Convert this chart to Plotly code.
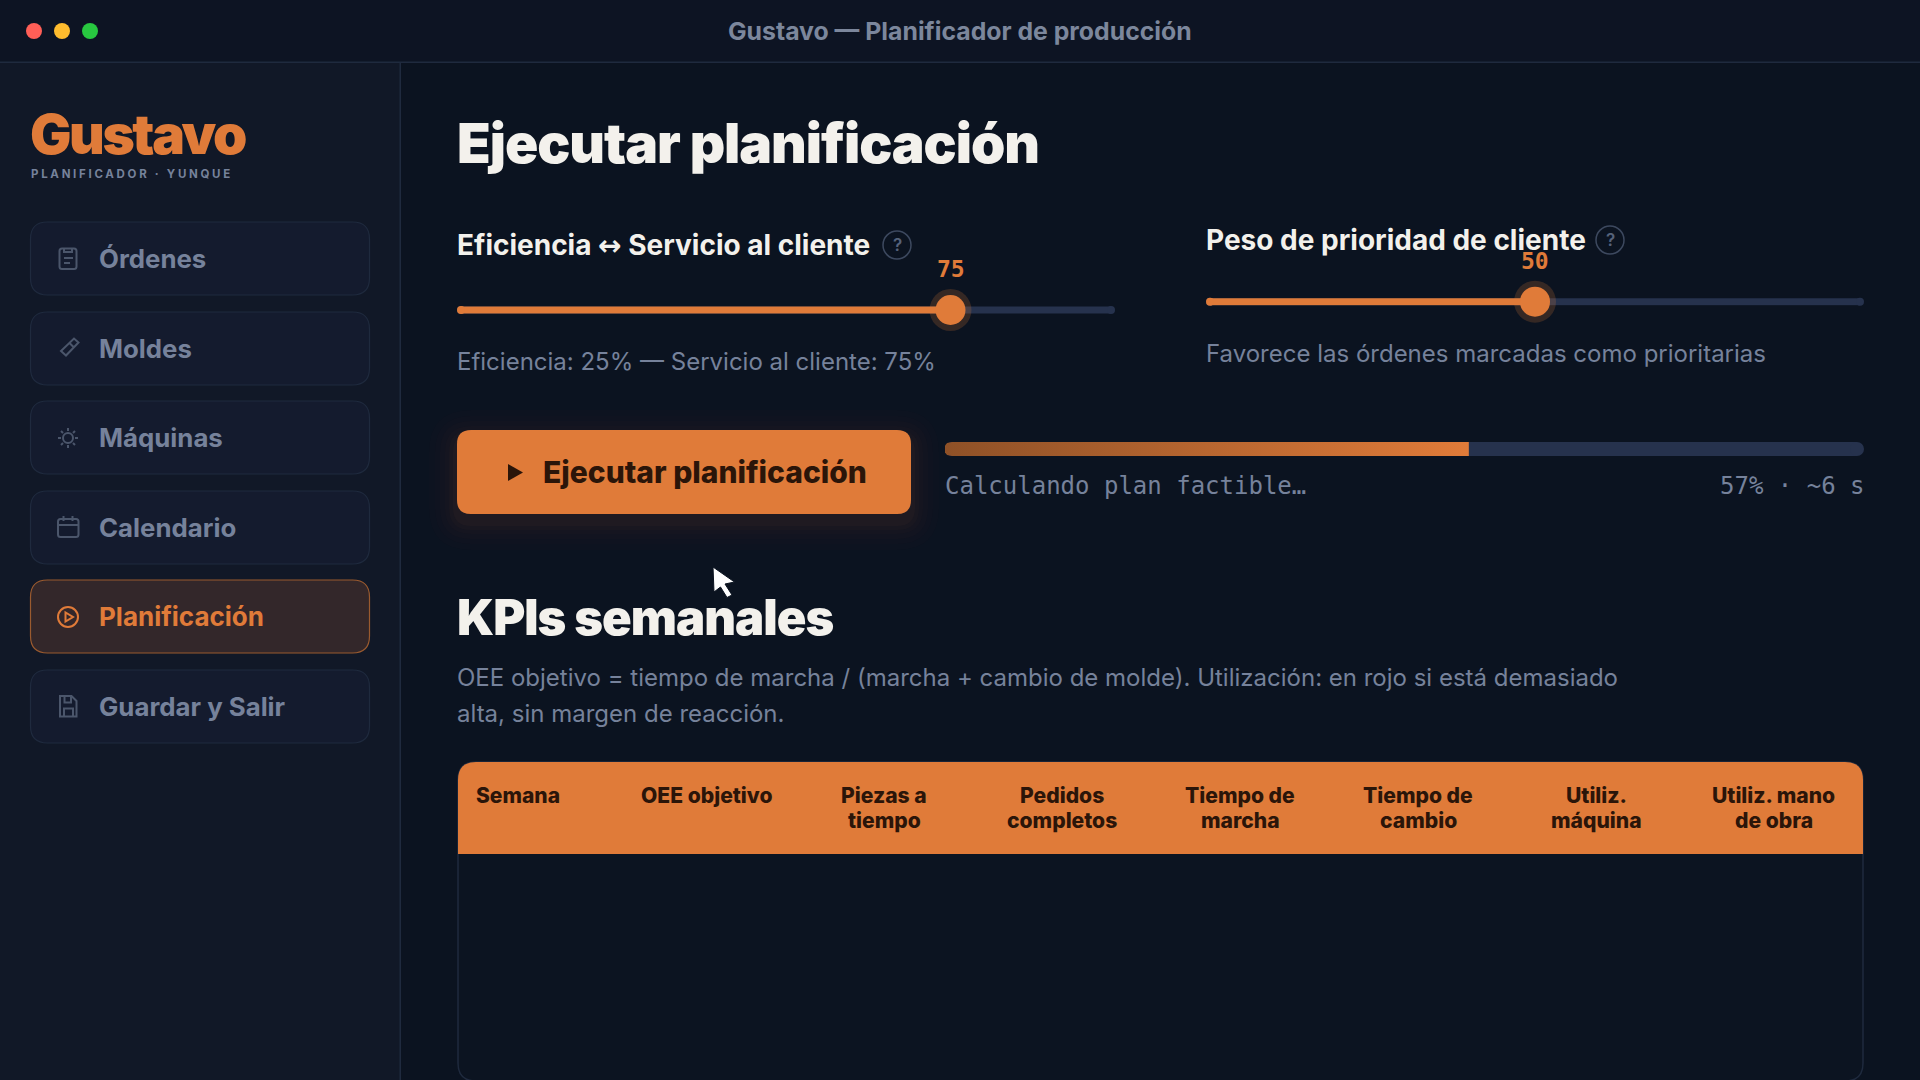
import plotly.graph_objects as go

W, H = 1920, 1080

# values shown in the screen
window_title = "Gustavo — Planificador de producción"
nav_items = ["Órdenes", "Moldes", "Máquinas", "Calendario", "Planificación", "Guardar y Salir"]
active_item = "Planificación"
page_title = "Ejecutar planificación"
slider_labels = ["Eficiencia <span style=\"font-family:'DejaVu Sans'\">↔</span> Servicio al cliente", "Peso de prioridad de cliente"]
slider_values = [75, 50]
slider_notes = ["Eficiencia: 25% — Servicio al cliente: 75%", "Favorece las órdenes marcadas como prioritarias"]
progress_value = 57
progress_text = "Calculando plan factible…"
progress_status = "57% · ~6 s"
kpi_title = "KPIs semanales"
kpi_notes = [
    "OEE objetivo = tiempo de marcha / (marcha + cambio de molde). Utilización: en rojo si está demasiado",
    "alta, sin margen de reacción.",
]
table_headers = [
    ["Semana"],
    ["OEE objetivo"],
    ["Piezas a", "tiempo"],
    ["Pedidos", "completos"],
    ["Tiempo de", "marcha"],
    ["Tiempo de", "cambio"],
    ["Utiliz.", "máquina"],
    ["Utiliz. mano", "de obra"],
]

ORANGE = "#e07b39"
DARK_TEXT = "#2b1509"
LIGHT = "#f3f1ec"
MUTED = "#76829b"
TRACK = "#26324d"
BORDER = "#1f2a3e"
ICON = "#4b566b"
SANS = "Inter"
MONO = "DejaVu Sans Mono"

fig = go.Figure()
shapes = []
annotations = []


def rounded(x0, y0, x1, y1, r, bottom=True):
    p = f"M{x0 + r},{y0} L{x1 - r},{y0} Q{x1},{y0} {x1},{y0 + r} "
    if bottom:
        p += f"L{x1},{y1 - r} Q{x1},{y1} {x1 - r},{y1} L{x0 + r},{y1} Q{x0},{y1} {x0},{y1 - r} "
    else:
        p += f"L{x1},{y1} L{x0},{y1} "
    p += f"L{x0},{y0 + r} Q{x0},{y0} {x0 + r},{y0} Z"
    return p


def box(path, fill="rgba(0,0,0,0)", line=None, width=1.5, layer="below"):
    shapes.append(dict(
        type="path", path=path, xref="x", yref="y", fillcolor=fill, layer=layer,
        line=dict(color=line or "rgba(0,0,0,0)", width=width if line else 0),
    ))


def rect(x0, y0, x1, y1, fill):
    shapes.append(dict(type="rect", x0=x0, x1=x1, y0=y0, y1=y1, xref="x", yref="y",
                       fillcolor=fill, line_width=0, layer="below"))


def circle(cx, cy, r, line, fill="rgba(0,0,0,0)", width=1.5):
    shapes.append(dict(type="circle", x0=cx - r, x1=cx + r, y0=cy - r, y1=cy + r, xref="x", yref="y",
                       fillcolor=fill, line=dict(color=line, width=width), layer="below"))


def text(s, x, y, size, color, weight=400, family=SANS, anchor="left", xref="x", yref="y"):
    annotations.append(dict(
        text=s, x=x, y=y, xref=xref, yref=yref, xanchor=anchor, yanchor="middle", align=anchor,
        showarrow=False, borderpad=0, font=dict(family=family, size=size, color=color, weight=weight),
    ))


def add_meter(n, x0, x1, y0, y1):
    # every slider and the progress bar gets its own 0-100 axis
    fig.update_layout({
        f"xaxis{n}": dict(domain=[x0 / W, x1 / W], range=[0, 100], visible=False, anchor=f"y{n}", fixedrange=True),
        f"yaxis{n}": dict(domain=[1 - y1 / H, 1 - y0 / H], range=[0, 1], visible=False, anchor=f"x{n}", fixedrange=True),
    })
    return f"x{n}", f"y{n}"


def add_bar_line(xa, ya, start, end, color, thick):
    fig.add_trace(go.Scatter(
        x=[start, end], y=[0.5, 0.5], xaxis=xa, yaxis=ya, mode="lines+markers", cliponaxis=False,
        line=dict(color=color, width=thick), marker=dict(color=color, size=thick), hoverinfo="skip",
    ))


# window and sidebar
rect(0, 0, W, H, "#0b1320")
rect(0, 0, W, 62, "#0d1423")
rect(0, 62, 400, H, "#111827")
rect(0, 61.5, W, 63, BORDER)
rect(399.5, 62, 401, H, BORDER)
fig.add_trace(go.Scatter(
    x=[34, 62, 90], y=[31, 31, 31], mode="markers", hoverinfo="skip",
    marker=dict(size=16, color=["#ff5f57", "#febc2e", "#28c840"]),
))
text(window_title, 960, 31, 24.8, "#7c879c", 700, anchor="center")
text("Gustavo", 29, 134, 55, ORANGE, 900)
text("PLANIFICADOR · YUNQUE", 29.5, 174, 11.5, MUTED, 700)

nav_tops = [222, 312, 401, 491, 580, 670]
for label, top in zip(nav_items, nav_tops):
    on = label == active_item
    box(rounded(30.5, top, 369.5, top + 73, 17), "#33272a" if on else "#141b2e",
        "#9a5a2f" if on else BORDER, 1.2)
    text(label, 98, top + 36.5, 26 if on else 25.8, ORANGE if on else MUTED, 700)

# sidebar icons, drawn by hand
box(rounded(59.5, 248.5, 76.5, 269, 2.5), line=ICON, width=2)
box("M64,249 L64,252 L72,252 L72,249 M64,258 L73,258 M64,263 L70,263", line=ICON, width=2)
box("M61,351 L74,338.5 L78.5,342.5 L66,355.5 Z M69.5,343 L74,347.5", line=ICON, width=2)
circle(68, 438, 5, ICON, width=2)
box("M68,428 L68,431 M68,445 L68,448 M58,438 L61,438 M75,438 L78,438 "
    "M61,431 L63,433 M73,443 L75,445 M61,445 L63,443 M73,433 L75,431", line=ICON, width=2)
box(rounded(58, 519, 78.5, 537, 2.5), line=ICON, width=2)
box("M58,525 L78.5,525 M63.5,516 L63.5,521 M72.5,516 L72.5,521", line=ICON, width=2)
circle(68, 617, 10, ORANGE, width=2)
box("M65.5,612.5 L65.5,621.5 L73,617 Z", line=ORANGE, width=2)
box("M60,696 L71.5,696 L76.5,701 L76.5,716.5 L60,716.5 Z "
    "M64.5,696 L64.5,702.5 L71,702.5 L71,696 M64,716.5 L64,708.5 L73,708.5 L73,716.5", line=ICON, width=2)

# page heading
text(page_title, 456, 143, 55, LIGHT, 900)

# sliders
slider_boxes = [(457, 1115, 310, 245, 897, 268.5, 361), (1206, 1864, 301.7, 240, 1610, 261, 353)]
for i, (x0, x1, ty, ly, hx, vy, ny) in enumerate(slider_boxes):
    value = slider_values[i]
    xa, ya = add_meter(i + 2, x0, x1, ty - 3.5, ty + 3.5)
    cap = 4 / (x1 - x0) * 100
    add_bar_line(xa, ya, cap, 100 - cap, TRACK, 8)
    fig.add_trace(go.Scatter(
        x=[value], y=[0.5], xaxis=xa, yaxis=ya, mode="markers", cliponaxis=False, hoverinfo="skip",
        marker=dict(size=42, color="rgba(224,123,57,0.2)"),
    ))
    add_bar_line(xa, ya, cap, value, ORANGE, 8)
    fig.add_trace(go.Scatter(
        x=[value], y=[0.5], xaxis=xa, yaxis=ya, mode="markers", cliponaxis=False, hoverinfo="skip",
        marker=dict(size=30, color=ORANGE),
    ))
    text(slider_labels[i], x0 - 1, ly, 28, LIGHT, 700)
    circle(hx, ly, 14, "#3d495f")
    text("?", hx, ly, 17, "#56627a", 600, anchor="center")
    text(str(value), value, 0, 23, ORANGE, 700, MONO, "center", xref=xa, yref="y")
    annotations[-1]["y"] = vy
    text(slider_notes[i], x0 - 1, ny, 24, MUTED)

# run button with soft glow
for grow, alpha in [(28, 0.01), (22, 0.013), (17, 0.016), (12, 0.02), (8, 0.025), (4, 0.03)]:
    box(rounded(457 - grow, 430 + 8 - grow, 911 + grow, 514 + 8 + grow, 14 + grow), f"rgba(224,123,57,{alpha})")
box(rounded(457, 430, 911, 514, 14), ORANGE)
box("M508,464 L523,472.5 L508,481 Z", DARK_TEXT)
text(page_title, 542, 472, 30, DARK_TEXT, 800)

# progress bar
xa, ya = add_meter(4, 945, 1864, 442, 456)
cap = 7 / 919 * 100
add_bar_line(xa, ya, cap, 100 - cap, TRACK, 14)
fig.add_trace(go.Scatter(
    x=[cap * 0.3, cap, progress_value, progress_value, cap, cap * 0.3, 0, 0, cap * 0.3],
    y=[0.93, 1, 1, 0, 0, 0.07, 0.25, 0.75, 0.93],
    xaxis=xa, yaxis=ya, mode="none", fill="toself", hoverinfo="skip",
    fillgradient=dict(type="horizontal", colorscale=[[0, "#8f5127"], [1, ORANGE]]),
))
text(progress_text, 944, 486, 24, MUTED, family=MONO)
text(progress_status, 1866, 486, 24, MUTED, family=MONO, anchor="right")

# KPI section
text(kpi_title, 456, 617.5, 49, LIGHT, 900)
text(kpi_notes[0], 456, 677, 24, MUTED)
text(kpi_notes[1], 456, 713, 24, MUTED)

box(rounded(458, 762, 1863, 1081, 18), "#0c1421", BORDER)
box(rounded(458, 762, 1863, 854, 18, bottom=False), ORANGE)
for i, lines in enumerate(table_headers):
    for j, line in enumerate(lines):
        if i == 0:
            text(line, 475, 795, 21, DARK_TEXT, 800)
        else:
            text(line, 706.5 + (i - 1) * 177.9, 795 + j * 25, 21.1, DARK_TEXT, 800, anchor="center")

# mouse pointer
box("M713,567 L734.5,582 L725,584 L732,595 L727,597.5 L720.5,587 L714,592 Z", "#ffffff", "#0b1320", 1, layer="above")

fig.update_layout(
    width=W,
    height=H,
    margin=dict(l=0, r=0, t=0, b=0),
    paper_bgcolor="#0b1320",
    plot_bgcolor="rgba(0,0,0,0)",
    showlegend=False,
    hovermode=False,
    xaxis=dict(domain=[0, 1], range=[0, W], visible=False, fixedrange=True),
    yaxis=dict(domain=[0, 1], range=[H, 0], visible=False, fixedrange=True),
    shapes=shapes,
    annotations=annotations,
)

# plotly has no letter spacing option, and the page body keeps a default margin
post = """
document.body.style.margin = '0';
document.body.style.background = '#0b1320';
document.querySelectorAll('.annotation-text').forEach(function (t) {
  var s = t.textContent;
  if (s.indexOf('PLANIFICADOR') === 0) t.style.letterSpacing = '2.7px';
  if (s === 'Gustavo') t.style.letterSpacing = '-2.4px';
  if (s === 'KPIs semanales') t.style.letterSpacing = '-1px';
  if (s === 'Ejecutar planificación' && parseFloat(t.style.fontSize) > 40) t.style.letterSpacing = '-1.05px';
});
"""
fig.write_html("out.html", config={"displayModeBar": False}, post_script=post)
